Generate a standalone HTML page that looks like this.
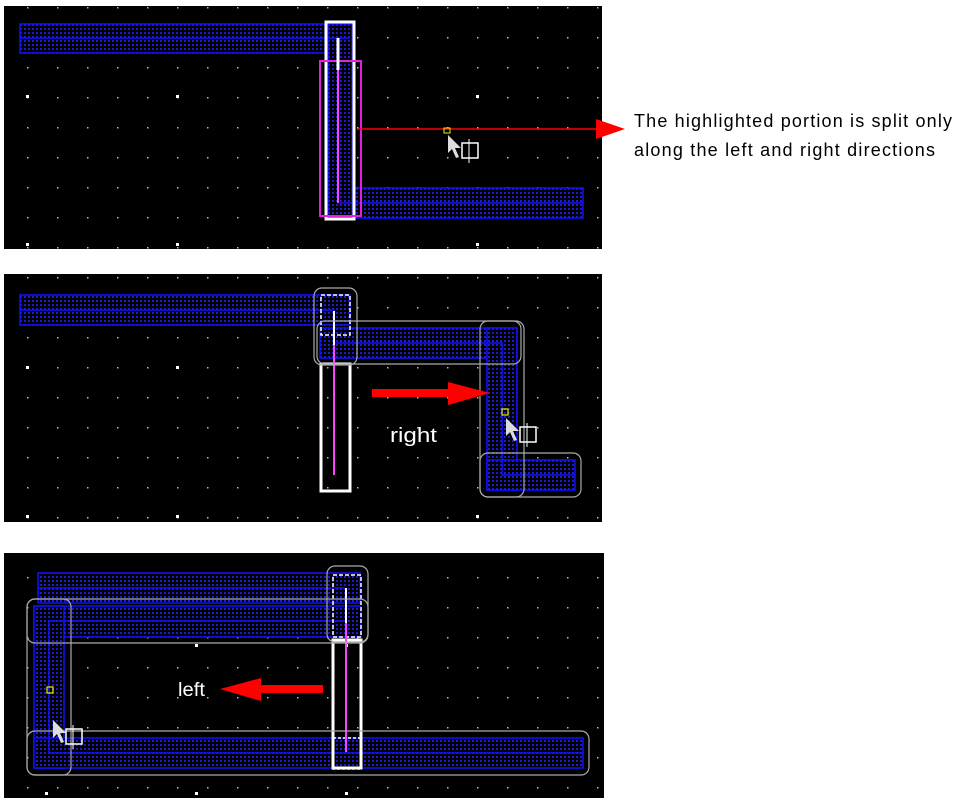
<!DOCTYPE html>
<html><head><meta charset="utf-8"><style>
html,body{margin:0;padding:0;background:#fff;width:963px;height:802px;overflow:hidden}
svg{display:block}
text{font-family:"Liberation Sans",sans-serif}
</style></head><body>
<svg width="963" height="802" viewBox="0 0 963 802" xmlns="http://www.w3.org/2000/svg">
<defs>
<pattern id="dots" width="30" height="30" patternUnits="userSpaceOnUse" x="27" y="7">
<rect x="0" y="0" width="1.5" height="1.5" fill="#bbb"/>
</pattern>
<pattern id="hatch" width="4" height="4" patternUnits="userSpaceOnUse">
<rect width="4" height="4" fill="#000"/>
<rect x="0" y="0" width="2" height="2" fill="#1a1ad0"/>
</pattern>
</defs>
<rect x="4" y="6" width="598" height="243" fill="#000"/>
<rect x="4" y="6" width="598" height="243" fill="url(#dots)"/>
<rect x="4" y="274" width="598" height="248" fill="#000"/>
<rect x="4" y="274" width="598" height="248" fill="url(#dots)"/>
<rect x="4" y="553" width="600" height="245" fill="#000"/>
<rect x="4" y="553" width="600" height="245" fill="url(#dots)"/>

<g fill="#fff">
<rect x="26" y="95" width="3" height="3"/><rect x="176" y="95" width="3" height="3"/><rect x="476" y="95" width="3" height="3"/>
<rect x="26" y="243" width="3" height="3"/><rect x="176" y="243" width="3" height="3"/><rect x="476" y="243" width="3" height="3"/>
<rect x="26" y="366" width="3" height="3"/><rect x="176" y="366" width="3" height="3"/>
<rect x="26" y="515" width="3" height="3"/><rect x="176" y="515" width="3" height="3"/><rect x="476" y="515" width="3" height="3"/>
<rect x="195" y="644" width="3" height="3"/><rect x="345" y="644" width="3" height="3"/><rect x="45" y="792" width="3" height="3"/><rect x="195" y="792" width="3" height="3"/><rect x="345" y="792" width="3" height="3"/>
</g>

<!-- Panel 1 -->
<g stroke="#1010ff" stroke-width="1.5" fill="url(#hatch)">
<rect x="20" y="24" width="330" height="29"/>
<rect x="328" y="188" width="255" height="30"/>
<rect x="328" y="24" width="24" height="192"/>
</g>
<line x1="20" y1="38" x2="350" y2="38" stroke="#1010ff" stroke-width="1.5"/>
<line x1="340" y1="203" x2="583" y2="203" stroke="#1010ff" stroke-width="1.5"/>
<rect x="326" y="22" width="28" height="197" fill="none" stroke="#fff" stroke-width="3"/>
<rect x="320" y="61" width="41" height="155" fill="none" stroke="#e020e0" stroke-width="2"/>
<line x1="338" y1="38" x2="338" y2="70" stroke="#fff" stroke-width="3"/>
<line x1="338" y1="70" x2="338" y2="203" stroke="#ff40ff" stroke-width="2"/>
<line x1="357" y1="129" x2="600" y2="129" stroke="#f00" stroke-width="1.5"/>
<polygon points="596,119 625,129 596,139" fill="#f00"/>
<rect x="444" y="128" width="6" height="5" fill="none" stroke="#ee0" stroke-width="1"/>
<polygon points="448,135 448,153 452,149 456,158 459,157 455,148 461,148" fill="#ddd"/>
<rect x="462" y="143" width="16" height="15" fill="none" stroke="#fff" stroke-width="1.5"/>
<line x1="469" y1="139" x2="469" y2="163" stroke="#fff" stroke-width="1"/>
<text x="634" y="127" font-size="18" fill="#000" textLength="318" lengthAdjust="spacing">The highlighted portion is split only</text>
<text x="634" y="156" font-size="18" fill="#000" textLength="301" lengthAdjust="spacing">along the left and right directions</text>

<!-- Panel 2 -->
<g stroke="#1010ff" stroke-width="1.5" fill="url(#hatch)">
<rect x="20" y="295" width="330" height="30"/>
<rect x="320" y="328" width="197" height="30"/>
<rect x="487" y="328" width="30" height="162"/>
<rect x="487" y="460" width="88" height="30"/>
</g>
<line x1="20" y1="310" x2="335" y2="310" stroke="#1010ff" stroke-width="1.5"/>
<polyline points="335,343 502,343 502,475 575,475" fill="none" stroke="#1010ff" stroke-width="1.5"/>
<rect x="321" y="364" width="29" height="127" fill="none" stroke="#fff" stroke-width="3"/>
<rect x="321" y="295" width="29" height="40" fill="none" stroke="#fff" stroke-width="1.5" stroke-dasharray="4,2"/>
<line x1="334" y1="311" x2="334" y2="345" stroke="#fff" stroke-width="2"/>
<line x1="334" y1="345" x2="334" y2="475" stroke="#ff40ff" stroke-width="2"/>
<g fill="none" stroke="#aaa" stroke-width="1.2">
<rect x="314" y="288" width="43" height="77" rx="8"/>
<rect x="317" y="321" width="204" height="43" rx="8"/>
<rect x="480" y="321" width="44" height="176" rx="8"/>
<rect x="480" y="453" width="101" height="44" rx="8"/>
</g>
<rect x="372" y="389" width="78" height="8" fill="#f00"/>
<polygon points="448,382 490,393 448,405" fill="#f00"/>
<text x="390" y="442" font-size="20" fill="#fff" textLength="47" lengthAdjust="spacingAndGlyphs">right</text>
<rect x="502" y="409" width="6" height="6" fill="none" stroke="#ee0" stroke-width="1.2"/>
<polygon points="506,418 506,436 510,432 514,441 517,440 513,431 519,431" fill="#ddd"/>
<rect x="520" y="427" width="16" height="15" fill="none" stroke="#fff" stroke-width="1.5"/>
<line x1="527" y1="423" x2="527" y2="447" stroke="#fff" stroke-width="1"/>

<!-- Panel 3 -->
<g stroke="#1010ff" stroke-width="1.5" fill="url(#hatch)">
<rect x="38" y="573" width="322" height="30"/>
<rect x="34" y="606" width="327" height="31"/>
<rect x="34" y="606" width="30" height="162"/>
<rect x="34" y="738" width="549" height="30"/>
</g>
<line x1="38" y1="588" x2="345" y2="588" stroke="#1010ff" stroke-width="1.5"/>
<polyline points="345,621 49,621 49,753 583,753" fill="none" stroke="#1010ff" stroke-width="1.5"/>
<rect x="333" y="640" width="28" height="128" fill="none" stroke="#fff" stroke-width="3"/>
<rect x="333" y="575" width="28" height="62" fill="none" stroke="#fff" stroke-width="1.5" stroke-dasharray="4,2"/>
<rect x="333" y="738" width="28" height="31" fill="none" stroke="#fff" stroke-width="1.5" stroke-dasharray="3,2"/>
<line x1="346" y1="588" x2="346" y2="623" stroke="#fff" stroke-width="2"/>
<line x1="346" y1="623" x2="346" y2="752" stroke="#ff40ff" stroke-width="2"/>
<g fill="none" stroke="#aaa" stroke-width="1.2">
<rect x="327" y="566" width="41" height="76" rx="8"/>
<rect x="27" y="599" width="341" height="44" rx="8"/>
<rect x="27" y="599" width="44" height="176" rx="8"/>
<rect x="27" y="731" width="562" height="44" rx="8"/>
</g>
<rect x="260" y="685" width="63" height="8" fill="#f00"/>
<polygon points="261,678 220,689 261,701" fill="#f00"/>
<text x="178" y="696" font-size="19" fill="#fff" textLength="27" lengthAdjust="spacingAndGlyphs">left</text>
<rect x="47" y="687" width="6" height="6" fill="none" stroke="#ee0" stroke-width="1.2"/>
<polygon points="53,720 53,738 57,734 61,743 64,742 60,733 66,733" fill="#ddd"/>
<rect x="66" y="729" width="16" height="15" fill="none" stroke="#fff" stroke-width="1.5"/>
<line x1="73" y1="725" x2="73" y2="749" stroke="#fff" stroke-width="1"/>
</svg>
</body></html>
